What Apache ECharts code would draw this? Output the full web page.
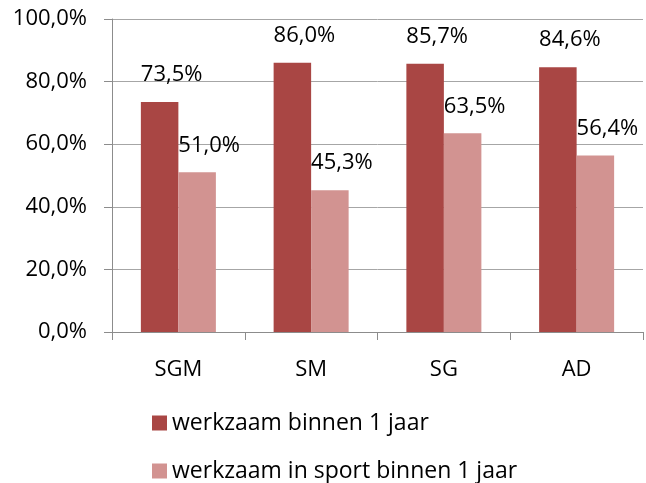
<!DOCTYPE html>
<html>
<head>
<meta charset="utf-8">
<script src="https://cdn.jsdelivr.net/npm/echarts@6/dist/echarts.min.js"></script>
<style>html,body{margin:0;padding:0;background:#fff}#c{width:646px;height:483px}</style>
</head>
<body>
<div id="c"></div>
<script>
const categories = ['SGM', 'SM', 'SG', 'AD'];
const seriesNames = ['werkzaam binnen 1 jaar', 'werkzaam in sport binnen 1 jaar'];
const werkzaam = [73.5, 86.0, 85.7, 84.6];
const werkzaamSport = [51.0, 45.3, 63.5, 56.4];
const yTicks = [0, 20, 40, 60, 80, 100];

const FONT = 'Open Sans';
const fmt = v => v.toFixed(1).replace('.', ',') + '%';
const chart = echarts.init(document.getElementById('c'));
const labelCfg = {
  show: true, position: 'top', offset: [12, -11],
  fontFamily: FONT, fontSize: 22, color: '#000',
  formatter: p => fmt(p.value)
};
const legendText = { fontFamily: FONT, fontSize: 23, color: '#000', lineHeight: 26 };
chart.setOption({
  animation: false,
  textStyle: { fontFamily: FONT },
  grid: { left: 112, right: 3, top: 19, bottom: 151 },
  xAxis: {
    type: 'category', data: categories,
    axisLine: { lineStyle: { color: '#8c8c8c', width: 1 } },
    axisTick: { show: true, length: 8, lineStyle: { color: '#8c8c8c' } },
    axisLabel: { fontFamily: FONT, fontSize: 22, color: '#000', margin: 27 }
  },
  yAxis: {
    type: 'value', min: yTicks[0], max: yTicks[yTicks.length - 1], interval: 20,
    axisLine: { show: true, lineStyle: { color: '#8c8c8c', width: 1 } },
    axisTick: { show: true, length: 8, lineStyle: { color: '#8c8c8c' } },
    splitLine: { lineStyle: { color: '#a6a6a6', width: 1 } },
    axisLabel: { fontFamily: FONT, fontSize: 22, color: '#000', margin: 25,
      formatter: v => fmt(v) }
  },
  legend: [
    { orient: 'vertical', left: 152, top: 410, padding: 0,
      itemWidth: 15, itemHeight: 15, icon: 'rect',
      textStyle: legendText, data: [seriesNames[0]] },
    { orient: 'vertical', left: 152, top: 458, padding: 0,
      itemWidth: 15, itemHeight: 15, icon: 'rect',
      textStyle: legendText, data: [seriesNames[1]] }
  ],
  series: [
    { name: seriesNames[0], type: 'bar', data: werkzaam, barGap: '0%', barCategoryGap: '43.5%',
      itemStyle: { color: '#A94644' }, label: labelCfg },
    { name: seriesNames[1], type: 'bar', data: werkzaamSport, barGap: '0%', barCategoryGap: '43.5%',
      itemStyle: { color: '#D29391' }, label: labelCfg }
  ]
});
</script>
</body>
</html>
